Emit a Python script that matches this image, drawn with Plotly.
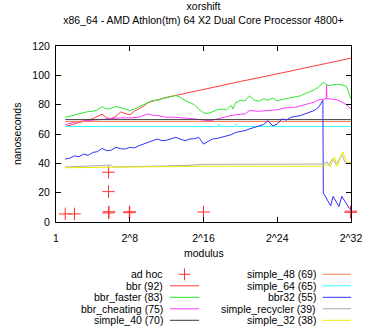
import plotly.graph_objects as go

# x values are log2(modulus)
SERIES = [
    "ad hoc", "bbr (92)", "bbr_faster (83)", "bbr_cheating (75)", "simple_40 (70)",
    "simple_48 (69)", "simple_64 (65)", "bbr32 (55)", "simple_recycler (39)", "simple_32 (38)",
]
COLORS = [
    "#ff3030", "#ff3b3b", "#2ee82e", "#ff3bff", "#3a3a3a",
    "#ff7f50", "#33ffff", "#3030ff", "#a8a8a8", "#eeee00",
]

AD_HOC_X = [1, 2, 5.7, 5.7, 5.7, 5.75, 7.95, 8, 16, 31.95, 32]
AD_HOC_Y = [5.5, 5.5, 33.9, 20.7, 6.2, 7.0, 6.3, 7.0, 6.8, 6.6, 7.4]

BBR_X = [1, 2, 3, 4, 5, 5.5, 6, 6.5, 7, 7.5, 8, 8.5, 9, 9.5, 10, 10.5, 11, 11.5, 12, 13,
         16, 20, 24, 28, 32]
BBR_Y = [65, 67, 69, 70.5, 73.5, 71, 70.5, 72, 75, 74, 73, 75.5, 77, 79, 81.5, 82.5, 83, 84, 85, 86.3,
         90.5, 95.8, 101, 106.5, 111.7]

FASTER_X = [1, 2, 3, 3.5, 4, 4.5, 5, 5.5, 6, 6.5, 7, 7.5, 8, 8.5, 9, 9.5, 10, 10.5, 11, 11.5,
            12, 12.5, 13, 13.5, 14, 14.5, 15, 15.5, 16, 16.5, 17, 17.5, 18, 18.5, 19, 19.2, 19.5,
            20, 20.5, 21, 21.5, 22, 22.5, 23, 23.5, 24, 24.5, 25, 25.5, 26, 26.5, 27, 27.5, 28,
            28.5, 29, 29.5, 30, 30.5, 31, 31.5, 32]
FASTER_Y = [71.4, 73, 75, 75.3, 75.5, 76.5, 78.7, 77, 77.5, 78.7, 78, 77, 76, 77, 78.5, 80.5, 81.5,
            82.9, 83, 84, 84.5, 85.5, 86.3, 85, 82.9, 81.5, 80, 77, 74.5, 74, 75.5, 76.5, 77, 76.5,
            79.5, 77, 81.5, 82.9, 82.5, 86, 83, 82.4, 84, 83, 84.5, 82.5, 83.5, 84, 84.5, 85.5, 86,
            87.5, 88.6, 90, 92, 95.4, 93, 93.5, 94, 93.5, 92.5, 84]

CHEAT_X = [1, 2, 3, 4, 5, 6, 7, 8, 9, 10, 10.5, 11, 12, 13, 14, 15, 16, 16.5, 17, 17.5, 18, 19,
           20, 20.5, 21, 22, 23, 24, 25, 26, 27, 27.5, 28, 28.5, 29, 29.3, 29.35, 29.4, 30, 30.5,
           31, 31.5, 32]
CHEAT_Y = [66.4, 68, 69, 69.5, 70.3, 70.5, 71, 71, 71.4, 73.7, 72.8, 72.6, 71.4, 71.4, 71, 70.3,
           69.5, 69, 69.5, 70.3, 71.5, 72.6, 73.5, 73.7, 76, 75.5, 76, 76.5, 78, 78.3, 80, 80.6,
           81.7, 83.3, 84, 84, 93.5, 84, 83.8, 83.3, 81.7, 80, 77.1]

SIMPLE40_X = [1, 32]
SIMPLE40_Y = [69.8, 69.8]
SIMPLE48_X = [1, 32]
SIMPLE48_Y = [68.5, 68.5]
SIMPLE64_X = [1, 17.6, 17.7, 17.8, 19.4, 19.5, 19.6, 32]
SIMPLE64_Y = [65.1, 65.1, 66.6, 65.1, 65.1, 66.6, 65.1, 65.1]

BBR32_X = [1, 1.5, 2, 2.5, 3, 3.5, 4, 4.5, 5, 5.5, 6, 6.5, 7, 7.5, 8, 8.5, 9, 9.5, 10, 10.5, 11,
           11.5, 12, 12.5, 13, 13.5, 14, 14.5, 15, 15.5, 16, 16.5, 17, 17.5, 18, 18.5, 19, 19.5,
           20, 20.5, 21, 21.5, 22, 22.5, 23, 23.5, 24, 24.5, 25, 25.5, 26, 26.5, 27, 27.5, 28,
           28.5, 28.8, 28.95, 29.0, 29.8, 30.05, 30.7, 31.0, 31.8, 32]
BBR32_Y = [42.9, 43.5, 45.1, 44.5, 46.3, 45.5, 47.4, 48, 50.2, 48.6, 49, 50.9, 50, 49.7, 50.9, 50.5,
           52, 53, 54.3, 55.5, 56.6, 55.4, 55.8, 57, 57.7, 56.5, 55.4, 56.6, 56.8, 57.7, 53.1, 55,
           56.6, 57, 57.7, 58.9, 59.5, 61.1, 61.5, 62.3, 63.5, 64.6, 65.5, 66.4, 69.1, 65.5, 66.8,
           70.3, 69.5, 71.4, 72, 72.5, 73.7, 75, 76, 78.3, 81.7, 83, 19.8, 11, 17.5, 10.5, 17.5,
           9.5, 8.5]

RECYCLER_X = [1, 5.5, 6, 6.2, 10, 14, 16, 20, 28, 29, 29.4, 29.6, 30.0, 30.4, 31.0, 31.4, 32]
RECYCLER_Y = [37.5, 38.5, 38.8, 37.5, 38, 38.5, 39.3, 39.5, 39.5, 39.5, 41, 38.8, 43, 39.2, 46,
              40, 40]

SIMPLE32_X = [1, 8, 16, 28, 29, 29.5, 29.7, 30.2, 30.5, 31.1, 31.6, 32]
SIMPLE32_Y = [37, 37.6, 38, 38, 38, 39.5, 37.5, 44.5, 38, 48, 40, 41]

LINES = [
    (BBR_X, BBR_Y), (FASTER_X, FASTER_Y), (CHEAT_X, CHEAT_Y), (SIMPLE40_X, SIMPLE40_Y),
    (SIMPLE48_X, SIMPLE48_Y), (SIMPLE64_X, SIMPLE64_Y), (BBR32_X, BBR32_Y),
    (RECYCLER_X, RECYCLER_Y), (SIMPLE32_X, SIMPLE32_Y),
]

X_TICKS = [0, 8, 16, 24, 32]
X_TICKTEXT = ["1", "2^8", "2^16", "2^24", "2^32"]
Y_TICKS = [0, 20, 40, 60, 80, 100, 120]

FONT = "Liberation Sans, Arial, sans-serif"
W, H = 374, 330
L, R, T, B = 56, 359, 46, 222  # plot box in pixels


def px(x):
    return (x - L) / (R - L)


def py(y):
    return (B - y) / (B - T)


fig = go.Figure()
fig.add_trace(go.Scatter(
    x=AD_HOC_X, y=AD_HOC_Y, mode="markers", name=SERIES[0],
    marker=dict(symbol="cross-thin", size=9, line=dict(color=COLORS[0], width=1)),
    cliponaxis=False,
))
for i, (xs, ys) in enumerate(LINES, start=1):
    fig.add_trace(go.Scatter(
        x=xs, y=ys, mode="lines", name=SERIES[i],
        line=dict(color=COLORS[i], width=1),
    ))

# gnuplot-style legend: text right-aligned, sample to its right
annotations, shapes = [], []
row_y = [274.3, 285.8, 297.3, 308.8, 320.3]
cols = [(168, 173, 203), (325, 330, 359)]
for i, name in enumerate(SERIES):
    c, r = divmod(i, 5)
    tx, s0, s1 = cols[c]
    yy = row_y[r]
    annotations.append(dict(
        x=px(tx), y=py(yy), xref="paper", yref="paper", text=name, showarrow=False,
        xanchor="right", yanchor="middle", font=dict(size=10.5, color="black", family=FONT),
    ))
    if i == 0:
        cx = (s0 + s1) / 2
        shapes.append(dict(type="line", xref="paper", yref="paper", x0=px(cx - 6), x1=px(cx + 6),
                           y0=py(yy), y1=py(yy), line=dict(color=COLORS[0], width=1)))
        shapes.append(dict(type="line", xref="paper", yref="paper", x0=px(cx), x1=px(cx),
                           y0=py(yy - 6), y1=py(yy + 6), line=dict(color=COLORS[0], width=1)))
    else:
        shapes.append(dict(type="line", xref="paper", yref="paper", x0=px(s0), x1=px(s1),
                           y0=py(yy), y1=py(yy), line=dict(color=COLORS[i], width=1)))

annotations.append(dict(
    x=px(207.5), y=py(253), xref="paper", yref="paper", text="modulus", showarrow=False,
    xanchor="center", yanchor="middle", font=dict(size=10.5, color="black", family=FONT),
))
annotations.append(dict(
    x=px(16), y=py(134), xref="paper", yref="paper", text="nanoseconds", showarrow=False,
    textangle=-90, xanchor="center", yanchor="middle",
    font=dict(size=10.5, color="black", family=FONT),
))

fig.update_layout(
    width=W, height=H,
    margin=dict(l=L, r=W - R, t=T, b=H - B, pad=0),
    title=dict(
        text="xorshift<br>x86_64 - AMD Athlon(tm) 64 X2 Dual Core Processor 4800+",
        x=px(207.5), xref="paper", xanchor="center",
        y=1 - 10 / H, yref="container", yanchor="top",
        font=dict(size=10.5, color="black", family=FONT),
    ),
    showlegend=False,
    plot_bgcolor="white",
    paper_bgcolor="white",
    font=dict(family=FONT, size=10.5, color="black"),
    annotations=annotations,
    shapes=shapes,
)
fig.update_xaxes(
    range=[0, 32], tickvals=X_TICKS, ticktext=X_TICKTEXT,
    showline=True, linecolor="black", linewidth=1, mirror="ticks",
    ticks="inside", ticklen=5, tickcolor="black", showgrid=False, zeroline=False,
    ticklabelstandoff=6,
)
fig.update_yaxes(
    range=[0, 120], tickvals=Y_TICKS,
    showline=True, linecolor="black", linewidth=1, mirror="ticks",
    ticks="inside", ticklen=5, tickcolor="black", showgrid=False, zeroline=False,
    ticklabelstandoff=3,
)

# the page body has a default margin; drop it so the figure sits at the top-left corner
fig.write_html("out.html", config={"displayModeBar": False},
               post_script="document.body.style.margin='0';")
